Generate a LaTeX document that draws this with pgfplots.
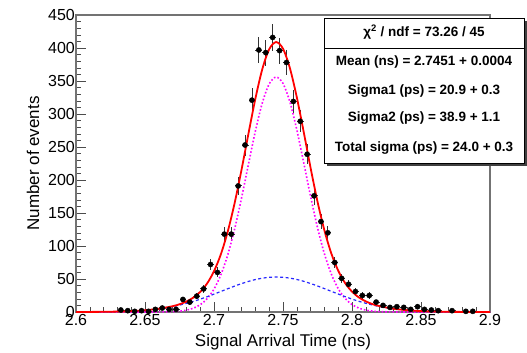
\documentclass[border=0pt]{standalone}
\usepackage{pgfplots}
\pgfplotsset{compat=1.18}
\usepackage{fontspec}
\setmainfont{Liberation Sans}
\definecolor{rootblue}{RGB}{40,40,255}
\definecolor{rootmag}{RGB}{255,0,255}
\begin{document}
\begin{tikzpicture}[x=1pt,y=1pt]
\useasboundingbox (0,0) rectangle (527,353);
\begin{axis}[
  at={(76pt,41pt)}, anchor=south west,
  scale only axis, width=414pt, height=297pt,
  xmin=2.6, xmax=2.9, ymin=0, ymax=450,
  xtick={2.6,2.65,...,2.91}, ytick={0,50,...,450},
  xticklabels={2.6,2.65,2.7,2.75,2.8,2.85,2.9},
  minor x tick num=4, minor y tick num=4,
  tick align=inside, xtick pos=lower, ytick pos=left,
  major tick length=10pt, minor tick length=5pt,
  every tick/.style={black!70, line width=0.6pt},
  axis line style={black!55, line width=1.3pt},
  /pgf/number format/assume math mode=true,
  ticklabel style={font=\fontsize{16}{18}\selectfont, inner sep=1pt},
  xticklabel style={yshift=-1pt},
  xlabel={Signal Arrival Time (ns)},
  ylabel={Number of events},
  label style={font=\fontsize{17}{20}\selectfont},
  xlabel style={at={(axis description cs:0.5,0)}, anchor=base, yshift=-34.7pt},
  ylabel style={at={(axis description cs:-0.104,0.5)}, anchor=center, rotate=0},
]
\addplot[only marks, mark=*, mark size=2.6pt, black,
  error bars/.cd, x dir=both, x fixed=0.0025, y dir=both, y explicit,
  error mark=none, error bar style={line width=0.9pt, black!80}]
  table[x=x, y=y, y error=ey] {
x y ey
2.6325 3 1.7
2.6375 2 1.4
2.6425 1 1.0
2.6475 2 1.4
2.6525 1 1.0
2.6575 4 2.0
2.6625 6 2.4
2.6675 4 2.0
2.6725 4 2.0
2.6775 19 4.4
2.6825 15 3.9
2.6875 24 4.9
2.6925 35 5.9
2.6975 72 8.5
2.7025 60 7.7
2.7075 118 10.9
2.7125 118 10.9
2.7175 191 13.8
2.7225 253 15.9
2.7275 321 17.9
2.7325 397 19.9
2.7375 393 19.8
2.7425 416 20.4
2.7475 396 19.9
2.7525 378 19.4
2.7575 319 17.9
2.7625 289 17.0
2.7675 239 15.5
2.7725 176 13.3
2.7775 137 11.7
2.7825 120 11.0
2.7875 75 8.7
2.7925 51 7.1
2.7975 42 6.5
2.8025 31 5.6
2.8075 25 5.0
2.8125 25 5.0
2.8175 15 3.9
2.8225 10 3.2
2.8275 7 2.6
2.8325 8 2.8
2.8375 7 2.6
2.8425 4 2.0
2.8475 8 2.8
2.8525 4 2.0
2.8575 3 1.7
2.8625 2 1.4
2.8725 2 1.4
2.8825 1 1.0
2.8875 1 1.0
};
% narrow Gaussian (sigma1)
\addplot[rootmag, line width=1.6pt, dash pattern=on 1.6pt off 2pt, smooth] coordinates {
(2.600,0) (2.630,0) (2.640,0.001) (2.650,0.011) (2.660,0.089) (2.670,0.559)
(2.675,1.283) (2.680,2.78) (2.685,5.70) (2.690,11.02) (2.695,20.12) (2.700,34.70)
(2.705,56.50) (2.710,86.90) (2.715,126.2) (2.720,173.1) (2.725,224.2) (2.730,274.2)
(2.735,316.8) (2.740,345.6) (2.745,356.0) (2.750,346.4) (2.755,318.2) (2.760,276.1)
(2.765,226.3) (2.770,175.1) (2.775,127.9) (2.780,88.3) (2.785,57.5) (2.790,35.43)
(2.795,20.59) (2.800,11.30) (2.805,5.86) (2.810,2.87) (2.815,1.326) (2.820,0.578)
(2.830,0.093) (2.840,0.012) (2.850,0.001) (2.860,0) (2.900,0)
};
% wide Gaussian (sigma2)
\addplot[rootblue, line width=1.2pt, dash pattern=on 3pt off 2.5pt, smooth] coordinates {
(2.600,0.050) (2.610,0.127) (2.620,0.301) (2.630,0.666) (2.640,1.377) (2.650,2.67)
(2.660,4.84) (2.670,8.22) (2.675,10.45) (2.680,13.07) (2.685,16.07) (2.690,19.44)
(2.695,23.12) (2.700,27.06) (2.705,31.15) (2.710,35.28) (2.715,39.29) (2.720,43.04)
(2.725,46.38) (2.730,49.15) (2.735,51.24) (2.740,52.55) (2.745,53.0) (2.750,52.58)
(2.755,51.31) (2.760,49.25) (2.765,46.50) (2.770,43.18) (2.775,39.44) (2.780,35.44)
(2.785,31.32) (2.790,27.23) (2.795,23.28) (2.800,19.58) (2.805,16.20) (2.810,13.18)
(2.815,10.55) (2.820,8.30) (2.830,4.90) (2.840,2.70) (2.850,1.40) (2.860,0.676)
(2.870,0.306) (2.880,0.129) (2.890,0.051) (2.900,0.019)
};
% total fit
\addplot[red, line width=1.8pt, smooth] coordinates {
(2.600,0.05) (2.610,0.13) (2.620,0.30) (2.630,0.67) (2.640,1.38) (2.650,2.68)
(2.660,4.93) (2.670,8.78) (2.675,11.73) (2.680,15.85) (2.685,21.77) (2.690,30.46)
(2.695,43.24) (2.700,61.76) (2.705,87.65) (2.710,122.18) (2.715,165.5) (2.720,216.1)
(2.725,270.6) (2.730,323.4) (2.735,368.0) (2.740,398.2) (2.745,409.0) (2.750,399.0)
(2.755,369.5) (2.760,325.4) (2.765,272.8) (2.770,218.3) (2.775,167.3) (2.780,123.7)
(2.785,88.8) (2.790,62.66) (2.795,43.87) (2.800,30.88) (2.805,22.06) (2.810,16.05)
(2.815,11.88) (2.820,8.88) (2.830,4.99) (2.840,2.71) (2.850,1.40) (2.860,0.68)
(2.870,0.31) (2.880,0.13) (2.890,0.05) (2.900,0.02)
};
\end{axis}
% statistics box
\fill[black!75] (327,187) rectangle (527,332);
\draw[fill=white, line width=0.8pt] (324,190) rectangle (524,335);
\draw[line width=0.8pt] (324,305) -- (524,305);
\begin{scope}[every node/.style={font=\fontsize{13.5}{15}\selectfont\bfseries, anchor=center, inner sep=0pt}]
\node at (424,321) {χ\textsuperscript{2} / ndf = 73.26 / 45};
\node at (424,291) {Mean (ns) = 2.7451 + 0.0004};
\node at (424,262) {Sigma1 (ps) = 20.9 + 0.3};
\node at (424,235) {Sigma2 (ps) = 38.9 + 1.1};
\node at (424,205) {Total sigma (ps) = 24.0 + 0.3};
\end{scope}
\end{tikzpicture}
\end{document}
